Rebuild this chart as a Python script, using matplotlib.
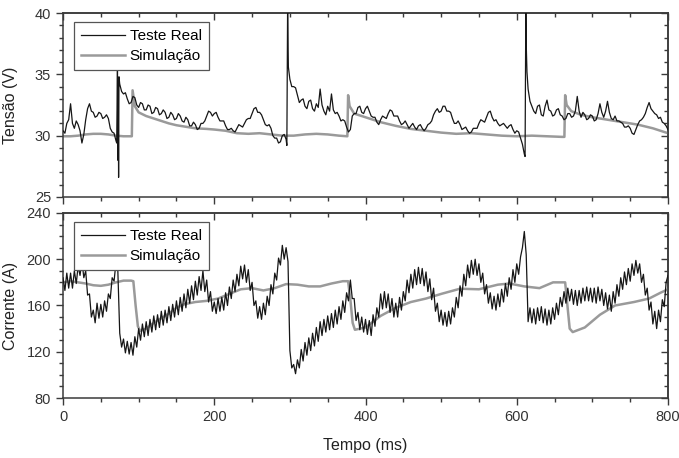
import numpy as np
import matplotlib
matplotlib.use("Agg")
import matplotlib.pyplot as plt
from matplotlib.ticker import MultipleLocator

plt.rcParams['font.family'] = ['Liberation Sans', 'DejaVu Sans']

# --- Tensão: Teste Real, amostras em t = 0, 5, 10 ... 800 ms ---
tensao_real = [
    30.4, 31.0, 32.6, 30.6, 30.9, 29.4, 31.3, 32.6, 31.9, 31.6,
    31.8, 31.5, 31.4, 30.3, 29.6, 34.2, 33.4, 33.0, 32.7, 33.1,
    32.3, 32.6, 32.1, 32.4, 31.9, 32.2, 31.8, 31.9, 31.5, 31.7,
    31.4, 31.6, 31.1, 31.3, 30.8, 30.9, 30.6, 31.0, 31.6, 31.9,
    31.8, 31.5, 31.2, 30.8, 30.5, 30.4, 30.6, 30.8, 31.0, 31.4,
    31.8, 32.3, 31.9, 31.3, 30.8, 30.6, 29.8, 29.4, 30.0, 29.7,
    34.6, 34.0, 33.3, 32.9, 32.4, 32.8, 32.2, 32.6, 33.8, 32.0,
    32.4, 33.4, 31.8, 31.6, 31.3, 30.7, 30.5, 31.8, 32.3, 31.9,
    32.2, 32.0, 31.5, 31.1, 31.3, 31.5, 31.8, 32.0, 31.6, 31.2,
    31.0, 30.9, 30.8, 30.7, 30.8, 30.6, 30.6, 31.0, 31.7, 32.2,
    32.0, 32.4, 32.0, 31.4, 31.0, 30.9, 30.6, 30.4, 30.3, 30.6,
    31.0, 31.2, 31.5, 32.0, 31.2, 31.0, 30.9, 30.8, 30.8, 30.5,
    30.4, 29.8, 28.5, 33.8, 32.4, 31.8, 32.5, 31.6, 32.9, 32.0,
    31.7, 32.2, 31.6, 31.4, 31.8, 31.6, 33.2, 31.5, 31.7, 31.4,
    31.6, 31.3, 32.6, 31.5, 32.8, 31.4, 31.6, 31.2, 31.0, 30.7,
    30.6, 30.1, 30.9, 31.3, 31.8, 32.7, 32.0, 31.7, 31.5, 31.0,
    30.5,
]
# amostras intermediárias em t = 2.5, 7.5 ... 797.5 ms
tensao_real_meio = [
    30.2, 31.3, 31.0, 31.2, 30.4, 30.1, 32.2, 32.0, 31.5, 31.9,
    31.4, 31.7, 30.6, 30.2, 28.0, 33.6, 33.5, 32.6, 33.2, 32.5,
    32.7, 32.1, 32.5, 31.8, 32.3, 31.7, 32.1, 31.4, 31.9, 31.3,
    31.8, 31.2, 31.5, 30.8, 31.1, 30.5, 31.0, 31.2, 32.0, 31.6,
    31.9, 31.2, 31.2, 30.5, 30.6, 30.3, 30.9, 30.7, 31.3, 31.4,
    32.2, 31.9, 31.7, 30.9, 30.9, 30.0, 29.8, 29.5, 30.1, 38.0,
    34.0, 33.9, 32.7, 33.0, 32.2, 32.9, 32.0, 32.3, 32.5, 31.7,
    32.0, 32.1, 31.9, 31.2, 31.2, 30.3, 31.6, 31.8, 32.4, 31.8,
    32.4, 31.6, 31.5, 30.9, 31.6, 31.4, 32.1, 31.6, 31.6, 30.9,
    31.2, 30.6, 31.0, 30.5, 30.9, 30.4, 30.9, 31.2, 32.0, 31.9,
    32.4, 32.0, 31.9, 31.0, 31.2, 30.5, 30.7, 30.2, 30.6, 30.6,
    31.3, 31.1, 31.9, 31.5, 31.3, 30.8, 31.0, 30.6, 30.9, 30.2,
    30.3, 29.3, 37.5, 32.8, 32.0, 32.4, 31.7, 32.4, 32.1, 31.6,
    32.1, 31.7, 31.3, 31.8, 31.5, 32.0, 32.0, 31.9, 31.3, 31.7,
    31.2, 31.8, 31.9, 32.0, 31.9, 31.3, 31.2, 31.1, 30.7, 30.8,
    30.2, 30.5, 31.2, 31.5, 32.3, 32.2, 31.8, 31.4, 31.1, 30.8,
]
# picos rápidos (tempo em ms, tensão em V)
pico_t = [71, 72, 73, 73.5, 74, 296, 297, 298, 611, 612, 613.5]
pico_v = [29.4, 35.5, 34.5, 26.6, 34.8, 29.2, 40.5, 35.6, 28.3, 40.5, 35.2]

# --- Tensão: Simulação ---
sim_v_t = [0, 10, 20, 30, 40, 50, 60, 70, 80, 91, 92, 95, 100, 110, 120, 130,
           140, 150, 160, 175, 190, 200, 215, 230, 245, 260, 275, 290, 305,
           320, 335, 350, 365, 376, 377, 379, 385, 400, 420, 440, 460, 480,
           500, 520, 540, 560, 580, 600, 620, 640, 660, 663, 664, 666, 672,
           685, 700, 720, 740, 760, 780, 800]
sim_v = [29.95, 29.95, 30.0, 30.1, 30.15, 30.15, 30.1, 30.0, 29.95, 29.95,
         33.7, 32.4, 31.9, 31.6, 31.4, 31.2, 31.0, 30.85, 30.75, 30.6, 30.55,
         30.5, 30.4, 30.2, 30.15, 30.2, 30.1, 30.0, 30.0, 30.1, 30.15, 30.1,
         30.0, 29.95, 33.3, 32.4, 31.8, 31.5, 31.1, 30.8, 30.55, 30.4, 30.25,
         30.15, 30.2, 30.1, 30.0, 29.95, 30.0, 29.95, 29.9, 29.9, 33.3, 32.5,
         32.0, 31.7, 31.5, 31.3, 31.1, 30.9, 30.6, 30.2]

# --- Corrente: Teste Real, amostras em t = 0, 2.5, 5 ... 800 ms ---
corrente_real = [
    184, 173, 188, 175, 188, 175, 190, 179, 194, 186, 199, 184, 190, 169, 170, 150, 156, 145, 162, 149,
    161, 150, 164, 155, 170, 166, 184, 181, 197, 190, 136, 124, 131, 119, 129, 118, 128, 117, 133, 124,
    140, 130, 144, 133, 146, 134, 148, 137, 151, 139, 152, 141, 155, 143, 156, 145, 159, 147, 161, 150,
    164, 152, 167, 155, 170, 158, 174, 162, 177, 165, 181, 169, 185, 173, 190, 172, 182, 163, 172, 155,
    163, 153, 166, 155, 167, 156, 171, 160, 176, 166, 182, 172, 187, 177, 194, 183, 195, 180, 191, 173,
    180, 160, 164, 149, 159, 148, 162, 152, 168, 160, 178, 170, 188, 182, 201, 195, 212, 200, 210, 198,
    121, 106, 109, 101, 113, 106, 122, 112, 128, 117, 132, 121, 136, 125, 141, 129, 146, 134, 148, 137,
    151, 139, 153, 141, 156, 144, 159, 148, 164, 154, 171, 164, 182, 166, 166, 147, 154, 139, 150, 137,
    148, 135, 147, 134, 152, 142, 158, 150, 170, 157, 172, 158, 170, 154, 166, 150, 162, 150, 167, 156,
    172, 164, 182, 171, 187, 175, 191, 178, 193, 179, 192, 177, 189, 172, 183, 165, 175, 155, 162, 146,
    156, 143, 154, 142, 155, 144, 158, 150, 167, 158, 177, 168, 187, 177, 195, 184, 199, 187, 200, 186,
    196, 180, 188, 170, 178, 162, 171, 157, 168, 156, 170, 159, 174, 163, 179, 168, 184, 174, 191, 180,
    196, 187, 202, 210, 224, 204, 146, 158, 145, 157, 144, 158, 147, 159, 145, 157, 143, 156, 144, 158,
    148, 162, 152, 167, 159, 172, 162, 175, 164, 174, 161, 173, 160, 173, 162, 175, 164, 176, 164, 175,
    163, 175, 162, 176, 164, 174, 160, 171, 157, 169, 155, 172, 162, 178, 168, 184, 174, 189, 178, 192,
    181, 196, 186, 199, 188, 196, 180, 187, 169, 175, 156, 163, 144, 155, 140, 156, 146, 165, 159, 180,
    186,
]

# --- Corrente: Simulação ---
sim_i_t = [0, 10, 20, 30, 40, 50, 60, 70, 80, 90, 93, 96, 99, 102, 110, 120,
           130, 140, 150, 160, 175, 190, 205, 220, 235, 250, 265, 280, 295,
           310, 325, 340, 355, 370, 377, 380, 383, 386, 400, 420, 440, 460,
           480, 500, 525, 550, 575, 590, 610, 630, 648, 664, 667, 670, 674,
           690, 710, 730, 755, 775, 790, 800]
sim_i = [180, 181, 180, 179, 177.5, 177, 178, 180, 181.5, 181.5, 181, 160,
         142, 138, 140, 145, 149, 153, 158, 161, 163, 164, 166, 170, 174, 175,
         173, 175, 178.5, 178, 176.5, 176.5, 179, 181, 181, 165, 145, 139,
         141, 151, 158, 163, 166, 170, 174.5, 174, 178, 179, 176.5, 175, 180,
         180, 160, 140, 137, 141, 152, 160, 163, 166, 171, 174]

preto = '#161616'
cinza = '#9a9a9a'
eixo = '#3a3a3a'


def estilo(ax, ymin, ymax, ymaj, ymin_step, rotulo_x):
    ax.set_xlim(0, 800)
    ax.set_ylim(ymin, ymax)
    ax.xaxis.set_major_locator(MultipleLocator(200))
    ax.xaxis.set_minor_locator(MultipleLocator(50))
    ax.yaxis.set_major_locator(MultipleLocator(ymaj))
    ax.yaxis.set_minor_locator(MultipleLocator(ymin_step))
    for s in ax.spines.values():
        s.set_color(eixo)
        s.set_linewidth(1.1)
    ax.tick_params(which='both', direction='out', color=eixo, width=1.0,
                   labelsize=10.5, labelcolor='#333333', top=False, right=False,
                   labelbottom=rotulo_x)
    ax.tick_params(which='major', length=5)
    ax.tick_params(which='minor', length=3)
    # ticks internos no topo e à direita
    top = ax.secondary_xaxis('top')
    top.xaxis.set_major_locator(MultipleLocator(200))
    top.xaxis.set_minor_locator(MultipleLocator(50))
    top.tick_params(which='both', direction='in', labeltop=False, color=eixo, width=1.0)
    top.tick_params(which='major', length=5)
    top.tick_params(which='minor', length=3)
    top.spines['top'].set_color(eixo)
    top.spines['top'].set_linewidth(1.1)
    right = ax.secondary_yaxis('right')
    right.yaxis.set_major_locator(MultipleLocator(ymaj))
    right.yaxis.set_minor_locator(MultipleLocator(ymin_step))
    right.tick_params(which='both', direction='in', labelright=False, color=eixo, width=1.0)
    right.tick_params(which='major', length=5)
    right.tick_params(which='minor', length=3)
    right.spines['right'].set_color(eixo)
    right.spines['right'].set_linewidth(1.1)
    ax.yaxis.set_label_coords(-0.074, 0.5)


fig = plt.figure(figsize=(6.79, 4.58), dpi=100)
ax1 = fig.add_axes([0.0928, 0.5699, 0.891, 0.4017])
ax2 = fig.add_axes([0.0928, 0.131, 0.891, 0.404])

t_base = np.arange(len(tensao_real)) * 5.0
t_meio = np.arange(len(tensao_real_meio)) * 5.0 + 2.5
tv = np.concatenate([t_base, t_meio, pico_t])
vv = np.concatenate([tensao_real, tensao_real_meio, pico_v])
ordem = np.argsort(tv, kind='stable')
ax1.plot(tv[ordem], vv[ordem], color=preto, lw=0.9, label='Teste Real', zorder=3)
ax1.plot(sim_v_t, sim_v, color=cinza, lw=1.8, label='Simulação', zorder=2)
estilo(ax1, 25, 40, 5, 1, False)
ax1.set_ylabel('Tensão (V)', fontsize=11.5, color='#222222')

t_i = np.arange(len(corrente_real)) * 2.5
ax2.plot(t_i, corrente_real, color=preto, lw=0.9, label='Teste Real', zorder=3)
ax2.plot(sim_i_t, sim_i, color=cinza, lw=1.8, label='Simulação', zorder=2)
estilo(ax2, 80, 240, 40, 10, True)
ax2.set_ylabel('Corrente (A)', fontsize=11.5, color='#222222')
ax2.set_xlabel('Tempo (ms)', fontsize=11.5, color='#222222', labelpad=10)

for ax in (ax1, ax2):
    leg = ax.legend(loc='upper left', bbox_to_anchor=(0.018, 0.951),
                    borderaxespad=0, fancybox=False, framealpha=1,
                    edgecolor='#555555', fontsize=11, handlelength=2.9,
                    borderpad=0.45, labelspacing=0.4, handletextpad=0.3)
    leg.get_frame().set_linewidth(0.9)
    leg.set_zorder(5)

fig.savefig('out.png', dpi=100, facecolor='white')
